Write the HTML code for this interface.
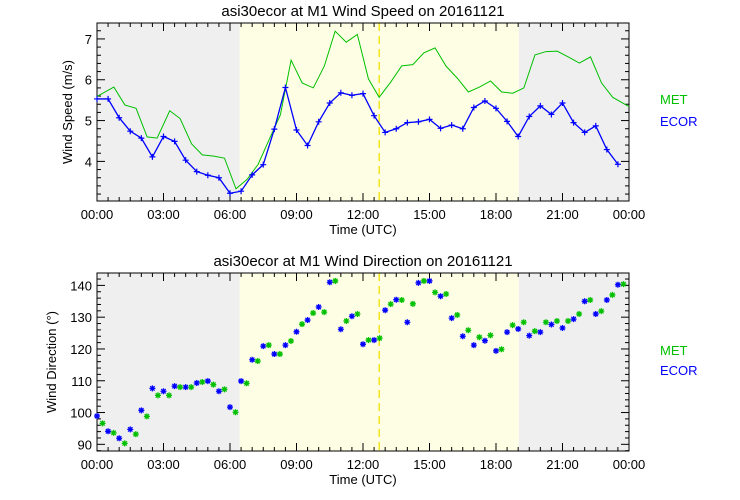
<!DOCTYPE html>
<html><head><meta charset="utf-8"><style>
html,body{margin:0;padding:0;background:#fff;}
svg{display:block;font-family:"Liberation Sans",sans-serif;}
</style></head><body>
<svg id="s" width="740" height="500" xmlns="http://www.w3.org/2000/svg"></svg>
<script>
const S=document.getElementById('s');let h='';
const X0=97,X1=629;const hx=t=>X0+t*(X1-X0)/24;
function panel(top,bot,vmin,vmax,ticks,minor,title,ylab,lx){
 const vy=v=>bot-(v-vmin)*(bot-top)/(vmax-vmin);
 h+=`<rect x="${X0}" y="${top}" width="${hx(6.44)-X0}" height="${bot-top}" fill="#efefef"/>`;
 h+=`<rect x="${hx(6.44)}" y="${top}" width="${hx(19.03)-hx(6.44)}" height="${bot-top}" fill="#fefee4"/>`;
 h+=`<rect x="${hx(19.03)}" y="${top}" width="${X1-hx(19.03)}" height="${bot-top}" fill="#efefef"/>`;
 h+=`<line x1="${hx(12.73)}" y1="${top}" x2="${hx(12.73)}" y2="${bot}" stroke="#f0e000" stroke-width="1.3" stroke-dasharray="8,5"/>`;
 h+=`<rect x="${X0}" y="${top}" width="${X1-X0}" height="${bot-top}" fill="none" stroke="#000"/>`;
 for(let t=0;t<=24;t+=0.5){const x=hx(t),L=(t%3==0)?8:4;
  h+=`<line x1="${x}" y1="${bot}" x2="${x}" y2="${bot-L}" stroke="#000"/><line x1="${x}" y1="${top}" x2="${x}" y2="${top+L}" stroke="#000"/>`;
  if(t%3==0)h+=`<text x="${x}" y="${bot+18}" font-size="13" text-anchor="middle">${String(t%24).padStart(2,'0')}:00</text>`;}
 for(let v=Math.ceil(vmin/minor)*minor;v<=vmax;v+=minor){const y=vy(v),maj=Math.abs(v/ticks-Math.round(v/ticks))<1e-6,L=maj?8:4;
  h+=`<line x1="${X0}" y1="${y}" x2="${X0+L}" y2="${y}" stroke="#000"/><line x1="${X1}" y1="${y}" x2="${X1-L}" y2="${y}" stroke="#000"/>`;
  if(maj)h+=`<text x="${X0-5}" y="${y+5}" font-size="13" text-anchor="end">${Math.round(v)}</text>`;}
 h+=`<text x="363" y="${top-7}" font-size="15" text-anchor="middle">${title}</text>`;
 h+=`<text x="363" y="${bot+33}" font-size="13" text-anchor="middle">Time (UTC)</text>`;
 const cy=(top+bot)/2;h+=`<text transform="translate(${lx},${cy}) rotate(-90)" font-size="13" text-anchor="middle">${ylab}</text>`;
 return vy;}
let vy=panel(23,201,3.03,7.39,1,0.2,"asi30ecor at M1 Wind Speed on 20161121","Wind Speed (m/s)",72);
const met=[[95,5.59],[139,5.82],[168,5.38],[197,5.3],[226,4.6],[252,4.57],[285,5.24],[312,5.05],[342,4.43],[370,4.16],[400,4.13],[428,4.08],[458,3.33],[487,3.56],[516,3.93],[545,4.54],[574,5.14],[602,6.48],[631,5.92],[660,5.8],[689,6.34],[717,7.19],[746,6.92],[775,7.11],[804,6.02],[832,5.57],[862,5.94],[891,6.34],[920,6.37],[949,6.66],[978,6.78],[1007,6.33],[1036,6.04],[1065,5.7],[1094,5.82],[1123,5.97],[1152,5.7],[1181,5.67],[1210,5.8],[1239,6.61],[1268,6.69],[1297,6.7],[1326,6.56],[1355,6.41],[1384,6.56],[1413,5.92],[1442,5.57],[1485,5.34]];
const ecor=[5.53,5.53,5.07,4.74,4.57,4.11,4.61,4.49,4.03,3.75,3.66,3.6,3.22,3.27,3.67,3.92,4.79,5.81,4.77,4.39,4.97,5.43,5.68,5.62,5.66,5.12,4.71,4.8,4.95,4.97,5.03,4.81,4.89,4.8,5.32,5.48,5.3,4.98,4.61,5.1,5.36,5.15,5.43,4.95,4.71,4.87,4.29,3.93];
const zx=z=>hx((z-95)/57.9);
h+=`<polyline fill="none" stroke="#00c000" stroke-width="1" points="${met.map(p=>zx(p[0])+','+vy(p[1])).join(' ')}"/>`;
h+=`<polyline fill="none" stroke="#0000ff" stroke-width="1.3" points="${ecor.map((v,i)=>hx(i*0.5)+','+vy(v)).join(' ')}"/>`;
ecor.forEach((v,i)=>{const x=hx(i*0.5),y=vy(v);h+=`<path d="M${x-3},${y}h6M${x},${y-3}v6" stroke="#0000ff" stroke-width="1.2"/>`;});
h+=`<text x="660" y="104" font-size="13" fill="#00c000">MET</text><text x="660" y="126" font-size="13" fill="#0000ff">ECOR</text>`;
vy=panel(273,451,87.9,143.9,10,2,"asi30ecor at M1 Wind Direction on 20161121","Wind Direction (°)",56);
const db=[98.9,94.1,91.9,94.7,100.7,107.6,106.7,108.3,108,109.3,109.9,106.7,101.7,109.9,116.6,120.9,118.4,121.2,125.4,129.1,133.2,141,126.2,130.3,121.5,122.8,132.2,135.5,128.4,140.8,141.4,136.6,129.7,124,121.2,122.6,119.4,125.3,126.3,124.2,125.3,127.7,126.6,129.4,135,131,135.4,140.2];
const dg=[96.6,93.6,90.3,93.2,98.8,105.4,105.4,108,108,109.6,108.8,107.3,100.1,109.2,116.2,121.2,118.4,122.5,127.8,131.3,131.6,141.4,128.8,131,122.8,123.4,134.1,135.4,134.2,141.4,137.8,137.3,130.7,125.9,123.7,124.3,119.9,127.5,128.4,125.6,128.4,128.8,128.8,131,135.4,131.9,137,140.4];
function star(x,y,c){h+=`<path d="M${x-3},${y}h6M${x},${y-3}v6M${x-2.2},${y-2.2}l4.4,4.4M${x-2.2},${y+2.2}l4.4,-4.4" stroke="${c}" stroke-width="1.3"/>`;}
db.forEach((v,i)=>star(hx(i*0.5),vy(v),"#0000ff"));
dg.forEach((v,i)=>star(hx(i*0.5+0.25),vy(v),"#00c000"));
h+=`<text x="660" y="355" font-size="13" fill="#00c000">MET</text><text x="660" y="375" font-size="13" fill="#0000ff">ECOR</text>`;
S.innerHTML=h;
</script>
</body></html>
